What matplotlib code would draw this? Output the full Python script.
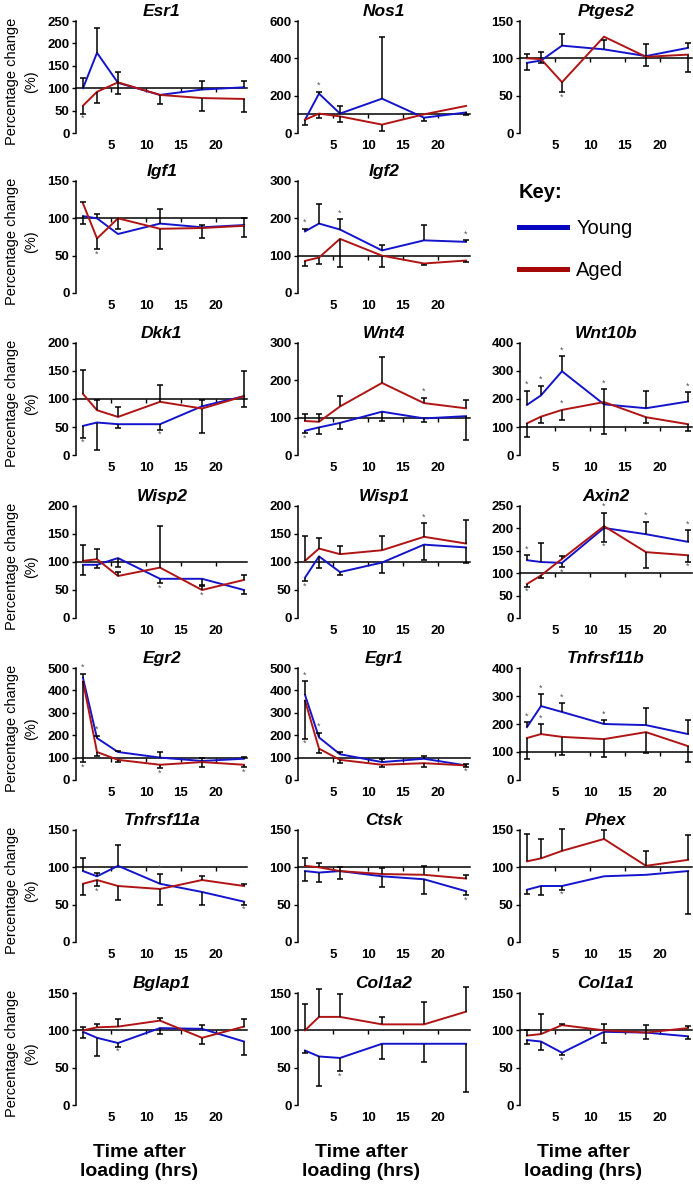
import matplotlib
matplotlib.use('Agg')
import matplotlib.pyplot as plt
from matplotlib.lines import Line2D
import numpy as np

plt.rcParams['font.family'] = ['Liberation Sans', 'DejaVu Sans']
plt.rcParams['font.weight'] = 'bold'

# ---------------- data ----------------
TIMES = [1, 3, 6, 12, 18, 24]
X_TICKS = [5, 10, 15, 20]
SERIES = ['Young', 'Aged']

GENE_GRID = [
    ['Esr1', 'Nos1', 'Ptges2'],
    ['Igf1', 'Igf2', None],
    ['Dkk1', 'Wnt4', 'Wnt10b'],
    ['Wisp2', 'Wisp1', 'Axin2'],
    ['Egr2', 'Egr1', 'Tnfrsf11b'],
    ['Tnfrsf11a', 'Ctsk', 'Phex'],
    ['Bglap1', 'Col1a2', 'Col1a1'],
]

Y_MAX = {'Esr1': 250, 'Nos1': 600, 'Ptges2': 150, 'Igf1': 150, 'Igf2': 300,
         'Dkk1': 200, 'Wnt4': 300, 'Wnt10b': 400, 'Wisp2': 200, 'Wisp1': 200,
         'Axin2': 250, 'Egr2': 500, 'Egr1': 500, 'Tnfrsf11b': 400,
         'Tnfrsf11a': 150, 'Ctsk': 150, 'Phex': 150, 'Bglap1': 150,
         'Col1a2': 150, 'Col1a1': 150}
Y_STEP = {'Esr1': 50, 'Nos1': 200, 'Ptges2': 50, 'Igf1': 50, 'Igf2': 100,
          'Dkk1': 50, 'Wnt4': 100, 'Wnt10b': 100, 'Wisp2': 50, 'Wisp1': 50,
          'Axin2': 50, 'Egr2': 100, 'Egr1': 100, 'Tnfrsf11b': 100,
          'Tnfrsf11a': 50, 'Ctsk': 50, 'Phex': 50, 'Bglap1': 50,
          'Col1a2': 50, 'Col1a1': 50}

YOUNG_MEAN = {
    'Esr1': [100, 179, 112, 85, 97, 102],
    'Nos1': [71, 211, 104, 184, 82, 110],
    'Ptges2': [94, 97, 117, 112, 103, 114],
    'Igf1': [103, 100, 79, 93, 88, 91],
    'Igf2': [165, 186, 170, 114, 141, 137],
    'Dkk1': [52, 58, 55, 55, 87, 105],
    'Wnt4': [65, 74, 86, 116, 98, 104],
    'Wnt10b': [179, 213, 299, 181, 167, 191],
    'Wisp2': [95, 95, 107, 70, 70, 50],
    'Wisp1': [72, 110, 82, 99, 131, 126],
    'Axin2': [129, 125, 123, 201, 187, 170],
    'Egr2': [455, 187, 125, 100, 85, 95],
    'Egr1': [380, 190, 115, 80, 95, 65],
    'Tnfrsf11b': [189, 264, 243, 200, 196, 164],
    'Tnfrsf11a': [95, 88, 102, 78, 67, 54],
    'Ctsk': [95, 93, 95, 88, 84, 68],
    'Phex': [70, 75, 75, 88, 90, 95],
    'Bglap1': [98, 90, 83, 103, 102, 85],
    'Col1a2': [73, 65, 63, 82, 82, 82],
    'Col1a1': [87, 85, 70, 98, 97, 92],
}
# signed error-bar lengths (positive = drawn upward, negative = downward)
YOUNG_ERR = {
    'Esr1': [23, 56, 25, 0, 20, 13],
    'Nos1': [0, 9, 39, 330, -18, -12],
    'Ptges2': [-10, -3, 15, 13, 16, 6],
    'Igf1': [-11, 6, 0, 20, 3, 9],
    'Igf2': [7, 53, 27, 15, 40, 5],
    'Dkk1': [-21, -49, -6, -10, 12, 45],
    'Wnt4': [-7, -18, -16, -25, -9, -64],
    'Wnt10b': [50, 34, 53, 54, 60, 33],
    'Wisp2': [-19, -6, -16, -8, -11, -8],
    'Wisp1': [-6, -20, -6, -18, -27, -28],
    'Axin2': [11, 43, -9, 34, 28, 26],
    'Egr2': [20, 10, 5, 25, 15, 8],
    'Egr1': [60, 20, 10, 15, 10, 5],
    'Tnfrsf11b': [18, 43, 32, 14, 61, 50],
    'Tnfrsf11a': [17, 5, 28, 13, -17, -4],
    'Ctsk': [-13, -12, -10, -15, -20, -5],
    'Phex': [-6, -12, -5, 0, 0, -57],
    'Bglap1': [-8, -25, -5, -8, 5, -18],
    'Col1a2': [-3, -40, -18, -20, -24, -64],
    'Col1a1': [-5, -12, -3, -15, -8, -3],
}
AGED_MEAN = {
    'Esr1': [61, 92, 113, 85, 78, 76],
    'Nos1': [71, 104, 89, 45, 100, 145],
    'Ptges2': [100, 99, 68, 129, 102, 105],
    'Igf1': [120, 73, 100, 86, 87, 90],
    'Igf2': [86, 95, 145, 100, 79, 87],
    'Dkk1': [109, 80, 68, 95, 83, 105],
    'Wnt4': [91, 89, 130, 193, 139, 125],
    'Wnt10b': [113, 137, 161, 189, 135, 110],
    'Wisp2': [102, 105, 75, 90, 50, 68],
    'Wisp1': [102, 124, 114, 121, 145, 133],
    'Axin2': [76, 95, 132, 205, 147, 140],
    'Egr2': [440, 125, 90, 68, 80, 68],
    'Egr1': [355, 140, 90, 68, 75, 65],
    'Tnfrsf11b': [150, 164, 154, 146, 171, 121],
    'Tnfrsf11a': [78, 83, 75, 71, 83, 75],
    'Ctsk': [102, 100, 95, 91, 90, 85],
    'Phex': [108, 112, 122, 138, 102, 110],
    'Bglap1': [100, 104, 105, 113, 90, 105],
    'Col1a2': [100, 118, 118, 108, 108, 125],
    'Col1a1': [93, 95, 107, 100, 97, 103],
}
AGED_ERR = {
    'Esr1': [-18, -24, -26, -20, -30, -29],
    'Nos1': [-30, -22, -30, -34, 0, 0],
    'Ptges2': [6, 10, -13, 0, -12, -23],
    'Igf1': [2, -14, -14, -27, -14, -15],
    'Igf2': [-15, -18, -75, -30, -5, -5],
    'Dkk1': [42, 19, 17, 30, -44, -19],
    'Wnt4': [19, 21, 27, 69, 15, 23],
    'Wnt10b': [-47, -24, -36, -114, -22, -26],
    'Wisp2': [29, 18, 8, 75, 8, 9],
    'Wisp1': [44, 18, 14, 25, 24, 42],
    'Axin2': [-6, -5, 6, -35, -35, -14],
    'Egr2': [-360, -20, -10, -15, -20, -10],
    'Egr1': [-170, -20, -15, -10, -15, -5],
    'Tnfrsf11b': [-75, 35, -65, -64, -75, -57],
    'Tnfrsf11a': [-15, -8, -19, -21, 5, 3],
    'Ctsk': [10, 6, 5, 8, 12, 5],
    'Phex': [37, 26, 30, 12, 20, 33],
    'Bglap1': [5, 4, 10, 4, -8, 10],
    'Col1a2': [35, 37, 30, 10, 30, 33],
    'Col1a1': [7, 27, 2, 8, 10, 3],
}
# significance asterisks: (time index, 'a' = above / 'b' = below)
YOUNG_SIG = {
    'Nos1': [(1, 'a')],
    'Igf2': [(0, 'a'), (2, 'a'), (5, 'a')],
    'Dkk1': [(0, 'b'), (3, 'b')],
    'Wnt4': [(0, 'b')],
    'Wnt10b': [(0, 'a'), (1, 'a'), (2, 'a'), (3, 'a'), (5, 'a')],
    'Wisp2': [(3, 'b')],
    'Wisp1': [(0, 'b')],
    'Axin2': [(0, 'a'), (2, 'b'), (3, 'a'), (4, 'a'), (5, 'a')],
    'Egr2': [(0, 'a'), (1, 'a')],
    'Egr1': [(0, 'a'), (1, 'a')],
    'Tnfrsf11b': [(0, 'a'), (1, 'a'), (2, 'a'), (3, 'a')],
    'Tnfrsf11a': [(3, 'a'), (5, 'b')],
    'Ctsk': [(5, 'b')],
    'Phex': [(2, 'b')],
    'Bglap1': [(2, 'b')],
    'Col1a2': [(2, 'b')],
    'Col1a1': [(2, 'b')],
}
AGED_SIG = {
    'Esr1': [(0, 'b')],
    'Ptges2': [(2, 'b')],
    'Igf1': [(1, 'b')],
    'Wnt4': [(4, 'a')],
    'Wnt10b': [(2, 'a')],
    'Wisp2': [(4, 'b')],
    'Wisp1': [(4, 'a')],
    'Axin2': [(0, 'b'), (3, 'b'), (5, 'b')],
    'Egr2': [(0, 'b'), (3, 'b'), (5, 'b')],
    'Egr1': [(0, 'b'), (5, 'b')],
    'Tnfrsf11b': [(1, 'a')],
    'Tnfrsf11a': [(1, 'b')],
}

# ---------------- style ----------------
C_YOUNG = '#1414CC'
C_AGED = '#B01414'
KEY_YOUNG = '#0707C2'
KEY_AGED = '#A40808'
W, H = 693, 1194

fig = plt.figure(figsize=(W / 100, H / 100), dpi=100)

COL_LEFT = [76, 298, 520]
ROW_TOP = [21, 181, 343, 506, 668, 830, 993]
AX_W, AX_H = 171.5, 112


def draw_series(ax, mean, err, color, sig):
    t = np.array(TIMES, float)
    m = np.array(mean, float)
    e = np.array(err, float)
    end = m + e
    ax.plot(t, m, color=color, lw=1.4, zorder=3, clip_on=False)
    has = e != 0
    ax.vlines(t[has], m[has], end[has], color='black', lw=1.1, zorder=4,
              clip_on=False)
    ax.plot(t[has], end[has], ls='none', marker='_', ms=4.5, mew=1.1,
            color='black', zorder=4, clip_on=False)
    for idx, side in sig:
        if side == 'a':
            y, off = max(m[idx], end[idx]), 4.5
        else:
            y, off = min(m[idx], end[idx]), -3.5
        ax.annotate('*', (t[idx], y), xytext=(0, off),
                    textcoords='offset points', ha='center', va='center',
                    fontsize=6.5, fontweight='normal', color='#555555',
                    annotation_clip=False)


n_rows = len(GENE_GRID)
for r, row in enumerate(GENE_GRID):
    for c, gene in enumerate(row):
        if gene is None:
            continue
        left = COL_LEFT[c] / W
        bottom = 1 - (ROW_TOP[r] + AX_H) / H
        ax = fig.add_axes([left, bottom, AX_W / W, AX_H / H])
        ax.set_xlim(0, 24.5)
        ax.set_ylim(0, Y_MAX[gene])
        ax.set_yticks(np.arange(0, Y_MAX[gene] + 1, Y_STEP[gene]))
        for s in ('top', 'right'):
            ax.spines[s].set_visible(False)
        ax.spines['left'].set_linewidth(1.1)
        ax.spines['bottom'].set_position(('data', 100))
        ax.spines['bottom'].set_linewidth(1.1)
        ax.spines['bottom'].set_zorder(2)
        ax.set_xticks(X_TICKS)
        ax.tick_params(axis='x', direction='out', length=3, width=1,
                       labelbottom=False)
        ax.tick_params(axis='y', direction='out', length=3, width=1,
                       labelsize=9.5, pad=1.5)
        sec = ax.secondary_xaxis('bottom')
        sec.spines['bottom'].set_visible(False)
        sec.set_xticks(X_TICKS)
        sec.tick_params(length=0, labelsize=9.5, pad=5)

        draw_series(ax, YOUNG_MEAN[gene], YOUNG_ERR[gene], C_YOUNG,
                    YOUNG_SIG.get(gene, []))
        draw_series(ax, AGED_MEAN[gene], AGED_ERR[gene], C_AGED,
                    AGED_SIG.get(gene, []))

        ax.set_title(gene, fontsize=12.5, fontweight='bold',
                     fontstyle='italic', pad=3.5)
        if c == 0:
            ax.set_ylabel('Percentage change\n(%)', fontsize=10.5,
                          fontweight='normal', linespacing=1.4, va='center')
            ax.yaxis.set_label_coords(-0.318, 0.46)
        if r == n_rows - 1:
            ax.set_xlabel('Time after\nloading (hrs)', fontsize=14,
                          fontweight='bold', linespacing=1.15, va='center')
            ax.xaxis.set_label_coords(0.367, -0.505)

fig.text(519 / W, 1 - 193 / H, 'Key:', fontsize=14.5, fontweight='bold',
         ha='left', va='center')
handles = [Line2D([], [], color=KEY_YOUNG, lw=3.6),
           Line2D([], [], color=KEY_AGED, lw=3.6)]
fig.legend(handles, SERIES, loc='upper left',
           bbox_to_anchor=(519 / W, 1 - 219 / H), frameon=False,
           prop={'weight': 'normal', 'size': 14.5},
           handlelength=2.4, handletextpad=0.45, labelspacing=1.15,
           borderpad=0, borderaxespad=0)

fig.savefig('out.png', dpi=100)
